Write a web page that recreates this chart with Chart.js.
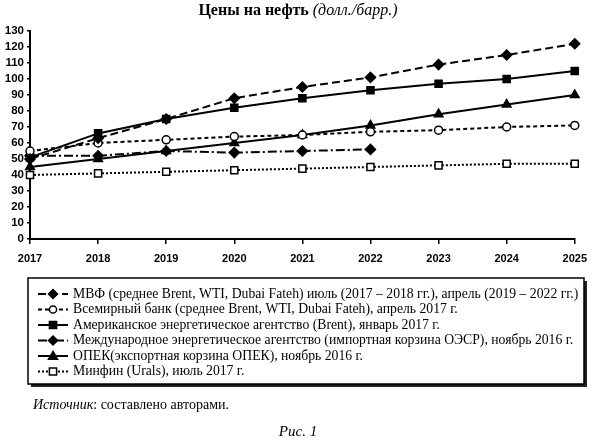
<!DOCTYPE html>
<html>
<head>
<meta charset="utf-8">
<script src="https://cdn.jsdelivr.net/npm/chart.js@4/dist/chart.umd.min.js"></script>
<style>
  body { margin: 0; background: #fff; }
  canvas { display: block; }
</style>
</head>
<body>
<canvas id="c" width="595" height="440"></canvas>
<script>
// data
const years = ['2017', '2018', '2019', '2020', '2021', '2022', '2023', '2024', '2025'];
const imf = [50, 63, 75, 88, 95, 101, 109, 115, 122];
const worldBank = [55, 60, 62, 64, 65, 67, 68, 70, 71];
const eia = [51, 66, 75, 82, 88, 93, 97, 100, 105];
const iea = [52, 52, 55, 54, 55, 56, null, null, null];
const opec = [45, 50, 55, 60, 65, 71, 78, 84, 90];
const minfin = [40, 41, 42, 43, 44, 45, 46, 47, 47];
const yTicks = [0, 10, 20, 30, 40, 50, 60, 70, 80, 90, 100, 110, 120, 130];

const seriesNames = [
  'МВФ (среднее Brent, WTI, Dubai Fateh) июль (2017 – 2018 гг.), апрель (2019 – 2022 гг.)',
  'Всемирный банк (среднее Brent, WTI, Dubai Fateh), апрель 2017 г.',
  'Американское энергетическое агентство (Brent), январь 2017 г.',
  'Международное энергетическое агентство (импортная корзина ОЭСР), ноябрь 2016 г.',
  'ОПЕК(экспортная корзина ОПЕК), ноябрь 2016 г.',
  'Минфин (Urals), июль 2017 г.'
];

function ds(label, data, dash, style, fill, r) {
  return {
    label: label,
    data: data,
    borderColor: '#000',
    borderWidth: 2,
    borderDash: dash,
    pointStyle: style,
    pointRadius: r,
    pointBackgroundColor: fill,
    pointBorderColor: '#000',
    pointBorderWidth: 1.5,
    tension: 0,
    spanGaps: false
  };
}

// own marker drawing for the legend box
function marker(ctx, style, fill, r, x, y) {
  ctx.save();
  ctx.setLineDash([]);
  ctx.fillStyle = fill;
  ctx.strokeStyle = '#000';
  ctx.lineWidth = 1.5;
  ctx.beginPath();
  if (style === 'rectRot') {
    ctx.moveTo(x, y - r); ctx.lineTo(x + r, y); ctx.lineTo(x, y + r); ctx.lineTo(x - r, y);
  } else if (style === 'rect') {
    const s = r * 0.8;
    ctx.rect(x - s, y - s, 2 * s, 2 * s);
  } else if (style === 'circle') {
    ctx.arc(x, y, r * 0.8, 0, Math.PI * 2);
  } else if (style === 'triangle') {
    ctx.moveTo(x, y - r); ctx.lineTo(x + r, y + r * 0.7); ctx.lineTo(x - r, y + r * 0.7);
  }
  ctx.closePath();
  ctx.fill();
  ctx.stroke();
  ctx.restore();
}

const extras = {
  id: 'extras',
  afterDraw(chart) {
    const ctx = chart.ctx;
    ctx.save();
    ctx.fillStyle = '#000';
    ctx.textBaseline = 'middle';

    // title: bold + italic part
    const t1 = 'Цены на нефть ';
    const t2 = '(долл./барр.)';
    ctx.font = 'bold 16px "Liberation Serif"';
    const w1 = ctx.measureText(t1).width;
    ctx.font = 'italic 16px "Liberation Serif"';
    const w2 = ctx.measureText(t2).width;
    let tx = 298 - (w1 + w2) / 2;
    ctx.font = 'bold 16px "Liberation Serif"';
    ctx.fillText(t1, tx, 11);
    ctx.font = 'italic 16px "Liberation Serif"';
    ctx.fillText(t2, tx + w1, 11);

    // legend box with shadow
    const bx = 28, by = 278, bw = 556, bh = 106;
    ctx.fillStyle = '#222';
    ctx.fillRect(bx + 3, by + 3, bw, bh);
    ctx.fillStyle = '#fff';
    ctx.fillRect(bx, by, bw, bh);
    ctx.strokeStyle = '#000';
    ctx.lineWidth = 1.5;
    ctx.strokeRect(bx, by, bw, bh);

    ctx.font = '13.7px "Liberation Serif"';
    chart.data.datasets.forEach((d, i) => {
      const y = 294 + i * 15.5;
      ctx.strokeStyle = '#000';
      ctx.lineWidth = 2;
      ctx.setLineDash(d.borderDash);
      ctx.beginPath();
      ctx.moveTo(38, y);
      ctx.lineTo(68, y);
      ctx.stroke();
      ctx.setLineDash([]);
      marker(ctx, d.pointStyle, d.pointBackgroundColor, 4.5, 53, y);
      ctx.fillStyle = '#000';
      ctx.fillText(d.label, 73, y);
    });

    // source and caption
    ctx.font = 'italic 14px "Liberation Serif"';
    const s1 = 'Источник';
    ctx.fillText(s1, 33, 405);
    const sw = ctx.measureText(s1).width;
    ctx.font = '14px "Liberation Serif"';
    ctx.fillText(': составлено авторами.', 33 + sw, 405);

    ctx.font = 'italic 15px "Liberation Serif"';
    ctx.textAlign = 'center';
    ctx.fillText('Рис. 1', 298, 432);
    ctx.restore();
  }
};

new Chart(document.getElementById('c'), {
  type: 'line',
  data: {
    labels: years,
    datasets: [
      ds(seriesNames[0], imf, [8, 4], 'rectRot', '#000', 5),
      ds(seriesNames[1], worldBank, [4, 3], 'circle', '#fff', 4),
      ds(seriesNames[2], eia, [], 'rect', '#000', 5),
      ds(seriesNames[3], iea, [9, 3, 2, 3], 'rectRot', '#000', 5),
      ds(seriesNames[4], opec, [], 'triangle', '#000', 5),
      ds(seriesNames[5], minfin, [2, 2], 'rect', '#fff', 5)
    ]
  },
  options: {
    responsive: false,
    animation: false,
    layout: { padding: { left: 0, right: 15, top: 31, bottom: 0 } },
    plugins: {
      legend: { display: false },
      title: { display: false },
      tooltip: { enabled: false }
    },
    scales: {
      x: {
        offset: false,
        grid: { drawOnChartArea: false, color: '#000', tickLength: 5, lineWidth: 1.5 },
        border: { color: '#000', width: 2 },
        ticks: { color: '#000', padding: 8, maxRotation: 0, autoSkip: false, font: { family: '"Liberation Sans"', weight: 'bold', size: 11 } },
        afterFit(scale) { scale.height = 201; }
      },
      y: {
        min: 0,
        max: 130,
        afterBuildTicks(scale) { scale.ticks = yTicks.map(v => ({ value: v })); },
        grid: { drawOnChartArea: false, color: '#000', tickLength: 3, lineWidth: 1.5 },
        border: { color: '#000', width: 2 },
        ticks: { color: '#000', padding: 3, autoSkip: false, font: { family: '"Liberation Sans"', weight: 'bold', size: 11.5 } },
        afterFit(scale) { scale.width = 30; }
      }
    }
  },
  plugins: [extras]
});
</script>
</body>
</html>
